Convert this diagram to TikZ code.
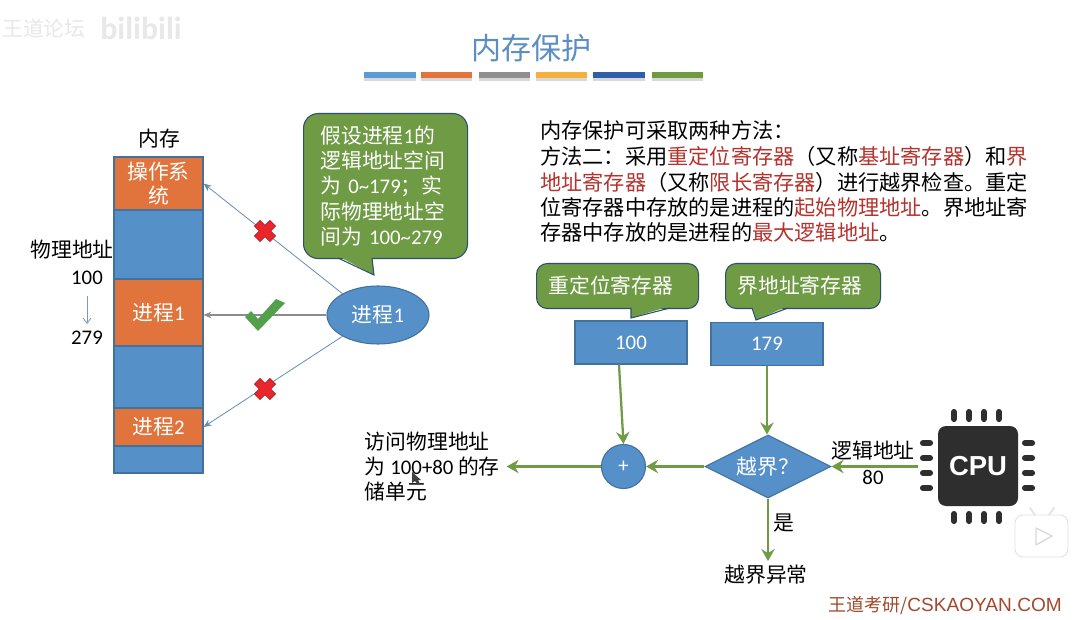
\documentclass[tikz,border=0pt]{standalone}
\usepackage{fontspec}
\usepackage{xcolor}
\usetikzlibrary{arrows.meta, positioning, shapes.geometric, shadows}
\setmainfont{Carlito}
\newfontfamily\cjk{Noto Sans CJK SC}
\newfontfamily\arial{Liberation Sans}
\newcommand{\lat}[1]{{\rmfamily #1}}
\newcommand{\px}{0.75pt}
\definecolor{cellblue}{HTML}{5590C8}
\definecolor{cellorange}{HTML}{E0743C}
\definecolor{cellgreen}{HTML}{6E9B43}
\definecolor{edgeblue}{HTML}{41719C}
\definecolor{linkgreen}{HTML}{6E9B43}
\definecolor{keyred}{HTML}{B5332E}
\definecolor{titleblue}{HTML}{5B8FC4}
\definecolor{brandred}{HTML}{A04A2E}
\definecolor{crossred}{HTML}{E8262C}
\definecolor{tickgreen}{HTML}{52A04A}

\begin{document}
\begin{tikzpicture}[x=0.75pt, y=-0.75pt,
  every node/.style={font=\fontsize{15.6pt}{19pt}\cjk, inner sep=0pt},
  memcell/.style={draw=edgeblue, line width=0.8pt, text=white, align=center, minimum width=89*\px},
  bubble/.style={fill=cellgreen, draw=edgeblue!70!black, line width=0.8pt, rounded corners=11pt, text=white, align=left, anchor=north west},
  regbox/.style={fill=cellblue, draw=edgeblue, line width=0.8pt, text=white, minimum width=112*\px, minimum height=43*\px},
  thinlink/.style={draw=edgeblue!80, line width=0.6pt, -{Stealth[length=6pt, width=5pt]}},
  greenlink/.style={draw=linkgreen, line width=1.7pt, -{Stealth[length=9pt, width=10pt, inset=3pt]}}
]
  \useasboundingbox (0,0) rectangle (1085,620);
  \fill[white] (0,0) rectangle (1085,620);

  % faint marks of the video
  \node[text=black!9] (markforum) at (44,29) {王道论坛};
  \node[text=black!9, font=\fontsize{24pt}{24pt}\bfseries\rmfamily] (marksite) at (141,28) {bilibili};

  % title
  \node[text=titleblue, font=\fontsize{22.5pt}{26pt}\cjk] (title) at (531,48) {内存保护};
  \foreach \xa/\xb/\col in {
    364/416/5B9BD5,
    421/472/E0743C,
    479/530/8F8F8F,
    536/587/F4B13D,
    593/645/2F5FA8,
    652/703/6D9B3E}
  {
    \definecolor{barcol}{HTML}{\col}
    \fill[barcol, drop shadow={shadow xshift=0pt, shadow yshift=-2pt, opacity=0.3}] (\xa,72) rectangle (\xb,78);
  }

  % memory column
  \node (memlabel) at (159,139) {内存};
  \foreach \nm/\ym/\h/\col/\lab in {
    memOS/183.5/53/cellorange/{操作系\\[-1.5pt]统},
    memGapA/244.5/69/cellblue/{},
    memProcA/312.5/67/cellorange/{进程\lat{1}},
    memGapB/377/62/cellblue/{},
    memGapC/459.5/27/cellblue/{},
    memProcB/427/38/cellorange/{进程\lat{2}}}
  {
    \node[memcell, fill=\col, minimum height=\h*\px] (\nm) at (158.5,\ym) {\lab};
  }
  \node[align=center] (physlabel) at (72,250) {物理地址};
  \node (physlow) at (87,278) {\lat{100}};
  \node (physhigh) at (87,338) {\lat{279}};
  \draw[draw=edgeblue!70, line width=0.6pt, -{Straight Barb[length=4pt, width=6pt]}] (physlow) ++(0,18) -- (87,324);

  % process and its three accesses
  \node[ellipse, fill=cellblue, draw=edgeblue, line width=0.8pt, text=white, minimum width=102*\px, minimum height=58*\px] (proc) at (378,315) {进程\lat{1}};
  \draw[thinlink] (proc.149) -- (memOS.east);
  \draw[thinlink, draw=black!45, line width=1pt] (proc.west) -- (proc.west -| memProcA.east);
  \draw[thinlink] (proc.211) -- (memProcB.east);

  % red crosses, green tick
  \foreach \cx/\cy in {265/231, 265/389}
    \filldraw[fill=crossred, draw=crossred!70!black, line width=0.4pt, shift={(\cx,\cy)}, rotate=45]
      (-4,-11) -- (4,-11) -- (4,-4) -- (11,-4) -- (11,4) -- (4,4) -- (4,11) -- (-4,11) -- (-4,4) -- (-11,4) -- (-11,-4) -- (-4,-4) -- cycle;
  \fill[tickgreen] (245,317) -- (258,331) -- (285,303) -- (276,299) -- (258,319) -- (251,311) -- cycle;

  % remark on the process
  \node[bubble, text width=130*\px, minimum height=145*\px, inner xsep=17*\px] (note) at (303,113)
    {假设进程\lat{1}的\\逻辑地址空间\\为 \lat{0\textasciitilde179}；实\\际物理地址空\\间为 \lat{100\textasciitilde279}};
  \fill[cellgreen] (338,256) -- (374,275) -- (372,256) -- cycle;
  \draw[draw=edgeblue!70!black, line width=0.8pt] (338,258) -- (374,275) -- (372,258);

  % explanation
  \node[align=left, anchor=north west, font=\fontsize{15.9pt}{19pt}\cjk] (method) at (540,120) {内存保护可采取两种方法：\\[1pt]
    方法二：采用\textcolor{keyred}{重定位寄存器}（又称\textcolor{keyred}{基址寄存器}）和\textcolor{keyred}{界}\\
    \textcolor{keyred}{地址寄存器}（又称\textcolor{keyred}{限长寄存器}）进行越界检查。重定\\
    位寄存器中存放的是进程的\textcolor{keyred}{起始物理地址}。界地址寄\\
    存器中存放的是进程的\textcolor{keyred}{最大逻辑地址}。};

  % registers
  \node[bubble, text width=138*\px, minimum height=45*\px, inner xsep=12*\px, rounded corners=8pt] (relocnote) at (536,263) {重定位寄存器};
  \node[bubble, text width=131*\px, minimum height=45*\px, inner xsep=12*\px, rounded corners=8pt] (limitnote) at (725,263) {界地址寄存器};
  \fill[cellgreen] (631,306) -- (631,318) -- (670,306) -- cycle;
  \draw[draw=edgeblue!70!black, line width=0.8pt] (631,308) -- (631,318) -- (670,308);
  \fill[cellgreen] (752,306) -- (756,320) -- (788,306) -- cycle;
  \draw[draw=edgeblue!70!black, line width=0.8pt] (752,308) -- (756,320) -- (788,308);
  \node[regbox] (relocreg) at (631,342.5) {\lat{100}};
  \node[regbox] (limitreg) at (767,344) {\lat{179}};

  % check and add
  \node[diamond, aspect=2, fill=cellblue, draw=edgeblue, line width=0.8pt, text=white, minimum width=126*\px, minimum height=63*\px] (check) at (768,466.5) {越界？};
  \node[circle, fill=cellblue, draw=edgeblue, line width=0.8pt, text=white, minimum size=44*\px] (adder) at (623.5,466.5) {\lat{+}};
  \node[align=left, anchor=east, inner sep=0pt] (target) at (500,466.5) {访问物理地址\\为 \lat{100+80} 的存\\储单元};
  \node (overflow) at (766,575) {越界异常};
  \node (yeslabel) at (784,523) {是};
  \node (logiclabel) at (873,451) {逻辑地址};
  \node (logicval) at (873,477) {\lat{80}};

  % CPU
  \node[fill=black!82, rounded corners=6pt, text=white, font=\fontsize{20.6pt}{24pt}\bfseries\arial, minimum size=80*\px] (cpu) at (978,466) {CPU};
  \foreach \p in {954,969,984,999} {
    \draw[black!82, line width=4.6pt, line cap=round] (\p,412) -- (\p,419);
    \draw[black!82, line width=4.6pt, line cap=round] (\p,514) -- (\p,521);
  }
  \foreach \p in {443,458,473,488} {
    \draw[black!82, line width=4.6pt, line cap=round] (923,\p) -- (930,\p);
    \draw[black!82, line width=4.6pt, line cap=round] (1025,\p) -- (1032,\p);
  }
  \coordinate (cpuport) at (918,466.5);

  \draw[greenlink] (cpuport) -- (check.east);
  \draw[greenlink] (check.west) -- (adder.east);
  \draw[greenlink] (adder.west) -- ([xshift=5pt]target.east);
  \draw[greenlink] ([xshift=-9pt]relocreg.south) -- (adder.north);
  \draw[greenlink] (limitreg.south) -- (limitreg.south |- check.north);
  \draw[greenlink] (check.south) -- ([yshift=3pt]check.south |- overflow.north);

  % pointer, player badge, brand line
  \fill[black!75] (412,472) -- (412,483) -- (415,481) -- (418,485) -- (420,484) -- (418,480) -- (421,480) -- cycle;
  \filldraw[fill=white, draw=black!12, line width=0.6pt, rounded corners=6pt] (1015,515) rectangle (1068,557);
  \draw[black!10, line width=1.5pt, line cap=round] (1030,508) -- (1035,515) (1054,508) -- (1049,515);
  \draw[black!15, line width=1pt, line join=round] (1036,528) -- (1052,536) -- (1036,545) -- cycle;
  \node[text=brandred, anchor=east, font=\fontsize{13.5pt}{16pt}\cjk] (brand) at (1062,606) {王道考研/{\arial\fontsize{14.3pt}{16pt}\selectfont CSKAOYAN.COM}};
\end{tikzpicture}
\end{document}
